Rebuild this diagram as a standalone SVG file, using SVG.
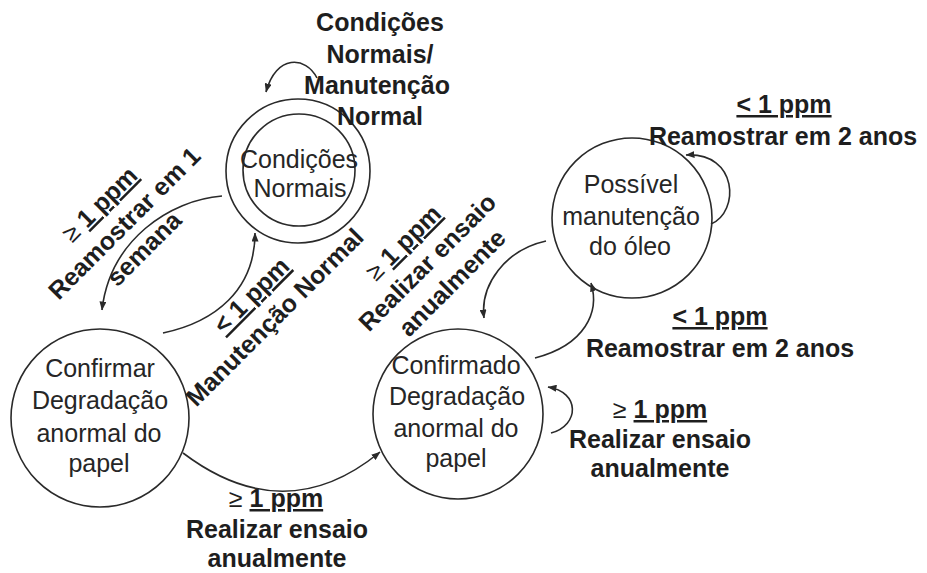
<svg xmlns="http://www.w3.org/2000/svg" width="927" height="573" viewBox="0 0 927 573">
  <style>
    .node { fill: none; stroke: #2a2a2a; stroke-width: 1.6; }
    .edge { fill: none; stroke: #2a2a2a; stroke-width: 1.6; marker-end: url(#ah); }
    .state { font-family: "Liberation Sans", Arial, sans-serif; font-size: 25px; fill: #262626; text-anchor: middle; }
    .lbl { font-family: "Liberation Sans", Arial, sans-serif; font-size: 25px; font-weight: bold; fill: #1e1e1e; text-anchor: middle; }
    .rel { font-weight: normal; }
    .u { text-decoration: underline; }
  </style>
  <defs>
    <marker id="ah" markerWidth="9" markerHeight="7" refX="8.5" refY="3.5" orient="auto" markerUnits="userSpaceOnUse">
      <path d="M0,0 L9,3.5 L0,7 z" fill="#2a2a2a"/>
    </marker>
  </defs>
  <rect width="927" height="573" fill="#ffffff"/>

  <!-- transitions -->
  <g id="connectors">
    <!-- self loop on Condições Normais -->
    <path class="edge" d="M317,78 C306,56 276,54 266,92"/>
    <!-- Condições Normais -> Confirmar -->
    <path class="edge" d="M222,196 C170,200 110,240 102,310"/>
    <!-- Confirmar -> Condições Normais -->
    <path class="edge" d="M163,333 C215,322 255,290 255,233"/>
    <!-- Confirmar -> Confirmado -->
    <path class="edge" d="M183,453 Q285,530 380,452"/>
    <!-- Confirmado -> Possível -->
    <path class="edge" d="M535,358 C585,345 600,312 591,283"/>
    <!-- Possível -> Confirmado -->
    <path class="edge" d="M546,241 C505,250 480,285 484,318"/>
    <!-- self loop on Possível -->
    <path class="edge" d="M711,224 C740,212 738,152 686,155"/>
    <!-- self loop on Confirmado -->
    <path class="edge" d="M551,433 C580,425 580,392 548,387"/>
  </g>

  <!-- states -->
  <g id="condicoes-normais">
    <circle class="node" cx="298" cy="171" r="72"/>
    <circle class="node" cx="299" cy="170" r="56"/>
    <text class="state" x="299" y="168">Condições</text>
    <text class="state" x="300" y="197">Normais</text>
  </g>

  <g id="confirmar-degradacao">
    <circle class="node" cx="100" cy="418" r="89"/>
    <text class="state" x="100" y="377">Confirmar</text>
    <text class="state" x="100" y="409">Degradação</text>
    <text class="state" x="99" y="442">anormal do</text>
    <text class="state" x="99" y="472">papel</text>
  </g>

  <g id="confirmado-degradacao">
    <circle class="node" cx="458" cy="414" r="85"/>
    <text class="state" x="456" y="374">Confirmado</text>
    <text class="state" x="457" y="405">Degradação</text>
    <text class="state" x="456" y="437">anormal do</text>
    <text class="state" x="456" y="467">papel</text>
  </g>

  <g id="possivel-manutencao">
    <circle class="node" cx="632" cy="218" r="80"/>
    <text class="state" x="631" y="193">Possível</text>
    <text class="state" x="631" y="225">manutenção</text>
    <text class="state" x="630" y="255">do óleo</text>
  </g>

  <!-- transition labels -->
  <g id="labels">
    <g id="lbl-loop-normais">
      <text class="lbl" x="380" y="31">Condições</text>
      <text class="lbl" x="380" y="63">Normais/</text>
      <text class="lbl" x="377" y="94">Manutenção</text>
      <text class="lbl" x="380" y="125">Normal</text>
    </g>

    <g id="lbl-reamostrar-semana" transform="translate(124,223) rotate(-45)">
      <text class="lbl" x="-4" y="-22"><tspan class="rel">≥</tspan> <tspan class="u">1 ppm</tspan></text>
      <text class="lbl" x="0" y="9">Reamostrar em 1</text>
      <text class="lbl" x="-4" y="41">semana</text>
    </g>

    <g id="lbl-manutencao" transform="translate(251,295) rotate(-45)">
      <text class="lbl u" x="0" y="9">&lt; 1 ppm</text>
      <text class="lbl" x="1" y="41">Manutenção Normal</text>
    </g>

    <g id="lbl-ensaio-diag" transform="translate(427,262) rotate(-45)">
      <text class="lbl" x="-3" y="-22"><tspan class="rel">≥</tspan> <tspan class="u">1 ppm</tspan></text>
      <text class="lbl" x="0" y="9">Realizar ensaio</text>
      <text class="lbl" x="3" y="41">anualmente</text>
    </g>

    <g id="lbl-loop-possivel">
      <text class="lbl u" x="784" y="113">&lt; 1 ppm</text>
      <text class="lbl" x="783" y="145">Reamostrar em 2 anos</text>
    </g>

    <g id="lbl-reamostrar-anos">
      <text class="lbl u" x="720" y="325">&lt; 1 ppm</text>
      <text class="lbl" x="720" y="357">Reamostrar em 2 anos</text>
    </g>

    <g id="lbl-loop-confirmado">
      <text class="lbl" x="660" y="418"><tspan class="rel">≥</tspan> <tspan class="u">1 ppm</tspan></text>
      <text class="lbl" x="660" y="448">Realizar ensaio</text>
      <text class="lbl" x="660" y="477">anualmente</text>
    </g>

    <g id="lbl-ensaio-bottom">
      <text class="lbl" x="276" y="507"><tspan class="rel">≥</tspan> <tspan class="u">1 ppm</tspan></text>
      <text class="lbl" x="277" y="538">Realizar ensaio</text>
      <text class="lbl" x="277" y="567">anualmente</text>
    </g>
  </g>
</svg>
